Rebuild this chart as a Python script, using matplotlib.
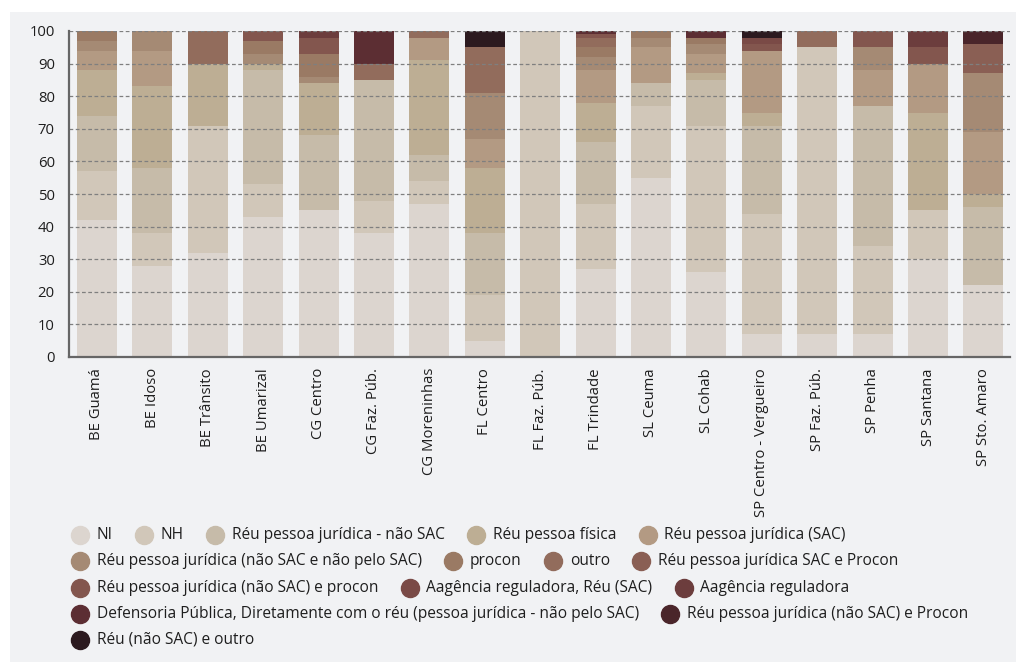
import matplotlib
matplotlib.use('Agg')
import matplotlib.pyplot as plt
from matplotlib.lines import Line2D
from matplotlib.patches import Rectangle
import numpy as np

plt.rcParams['font.family'] = ['Open Sans', 'DejaVu Sans']

categories = ['BE Guamá', 'BE Idoso', 'BE Trânsito', 'BE Umarizal', 'CG Centro',
              'CG Faz. Púb.', 'CG Moreninhas', 'FL Centro', 'FL Faz. Púb.',
              'FL Trindade', 'SL Ceuma', 'SL Cohab', 'SP Centro - Vergueiro',
              'SP Faz. Púb.', 'SP Penha', 'SP Santana', 'SP Sto. Amaro']

series_names = [
    'NI',
    'NH',
    'Réu pessoa jurídica - não SAC',
    'Réu pessoa física',
    'Réu pessoa jurídica (SAC)',
    'Réu pessoa jurídica (não SAC e não pelo SAC)',
    'procon',
    'outro',
    'Réu pessoa jurídica SAC e Procon',
    'Réu pessoa jurídica (não SAC) e procon',
    'Aagência reguladora, Réu (SAC)',
    'Aagência reguladora',
    'Defensoria Pública, Diretamente com o réu (pessoa jurídica - não pelo SAC)',
    'Réu pessoa jurídica (não SAC) e Procon',
    'Réu (não SAC) e outro',
]

ni = [42, 28, 32, 43, 45, 38, 47, 5, 0, 27, 55, 26, 7, 7, 7, 30, 22]
nh = [15, 10, 39, 10, 0, 10, 7, 14, 100, 20, 22, 45, 37, 88, 27, 15, 0]
reu_pj_nao_sac = [17, 20, 0, 35, 23, 37, 8, 19, 0, 19, 7, 14, 27, 0, 43, 0, 24]
reu_pf = [14, 25, 19, 2, 16, 0, 29, 20, 0, 12, 0, 2, 4, 0, 0, 30, 4]
reu_pj_sac = [6, 11, 0, 0, 0, 0, 7, 9, 0, 10, 11, 6, 19, 0, 11, 15, 19]
reu_pj_nao_pelo_sac = [3, 6, 0, 3, 2, 0, 0, 14, 0, 4, 3, 3, 0, 0, 7, 0, 18]
procon = [3, 0, 0, 4, 7, 0, 0, 0, 0, 3, 2, 2, 0, 0, 0, 0, 0]
outro = [0, 0, 10, 0, 0, 5, 2, 14, 0, 3, 0, 0, 0, 5, 0, 0, 0]
sac_procon = [0, 0, 0, 0, 0, 0, 0, 0, 0, 0, 0, 0, 0, 0, 0, 0, 9]
nao_sac_procon = [0, 0, 0, 3, 5, 0, 0, 0, 0, 1, 0, 0, 2, 0, 5, 5, 0]
agencia_reu = [0, 0, 0, 0, 0, 0, 0, 0, 0, 0, 0, 0, 2, 0, 0, 0, 0]
agencia = [0, 0, 0, 0, 2, 0, 0, 0, 0, 0, 0, 0, 0, 0, 0, 5, 0]
defensoria = [0, 0, 0, 0, 0, 10, 0, 0, 0, 1, 0, 2, 0, 0, 0, 0, 0]
nao_sac_procon2 = [0, 0, 0, 0, 0, 0, 0, 0, 0, 0, 0, 0, 0, 0, 0, 0, 4]
nao_sac_outro = [0, 0, 0, 0, 0, 0, 0, 5, 0, 0, 0, 0, 2, 0, 0, 0, 0]

series = [ni, nh, reu_pj_nao_sac, reu_pf, reu_pj_sac, reu_pj_nao_pelo_sac, procon,
          outro, sac_procon, nao_sac_procon, agencia_reu, agencia, defensoria,
          nao_sac_procon2, nao_sac_outro]

colors = ['#dcd5cf', '#d1c7b9', '#c6bba9', '#bdae94', '#b39a83', '#a58a74',
          '#9a7a64', '#926c5c', '#8a5f54', '#83564e', '#7a4a46', '#6c3d3d',
          '#5c2e33', '#4a252a', '#2c1a1f']

W, H = 1016, 662
fig = plt.figure(figsize=(W / 100, H / 100), dpi=100, facecolor='white')
fig.add_artist(Rectangle((10 / W, 0), 1, (H - 12) / H, transform=fig.transFigure,
                         facecolor='#f1f2f4', edgecolor='none', zorder=0))

ax = fig.add_axes([68.7 / W, (H - 357) / H, (1010 - 68.7) / W, (357 - 31) / H])
ax.set_facecolor('none')

x = np.arange(len(categories))
bottom = np.zeros(len(categories))
for vals, c in zip(series, colors):
    ax.bar(x, vals, bottom=bottom, width=0.72, color=c, linewidth=0, zorder=1)
    bottom += np.array(vals)

ax.set_xlim(-0.51, 16.48)
ax.set_ylim(0, 100)
ax.set_yticks(range(0, 101, 10))
for v in range(10, 101, 10):
    ax.axhline(v, color='#7f7f7f', lw=0.9, ls=(0, (3, 2)), zorder=3)

ax.set_xticks(x)
ax.set_xticklabels(categories, rotation=90, color='#1e1e1e')
ax.tick_params(axis='both', length=0, labelsize=10.7, colors='#1e1e1e')
ax.tick_params(axis='x', pad=8)
ax.tick_params(axis='y', pad=10)
for s in ['top', 'right']:
    ax.spines[s].set_visible(False)
for s in ['left', 'bottom']:
    ax.spines[s].set_color('#666666')
    ax.spines[s].set_linewidth(1.6)
    ax.spines[s].set_zorder(4)

# legend laid out row by row like a wrapping list
legend_rows = [[0, 1, 2, 3, 4], [5, 6, 7, 8], [9, 10, 11], [12, 13], [14]]
row_y = [535, 561, 588, 614, 640]
renderer = fig.canvas.get_renderer()
for row, yy in zip(legend_rows, row_y):
    xx = 80
    for i in row:
        fig.add_artist(Line2D([xx / W], [(H - yy) / H], marker='o', markersize=13,
                              color=colors[i], linestyle='none',
                              transform=fig.transFigure))
        t = fig.text((xx + 17) / W, (H - yy) / H, series_names[i], fontsize=11.2,
                     color='#1e1e1e', va='center', ha='left')
        w = t.get_window_extent(renderer).width
        xx = xx + 17 + w + 31

fig.savefig('out.png', dpi=100, facecolor=fig.get_facecolor())
